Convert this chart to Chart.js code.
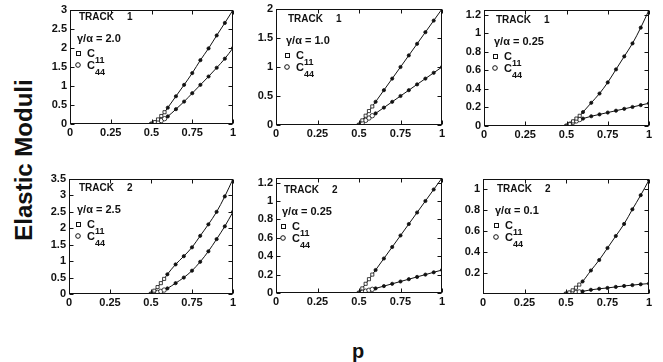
<!DOCTYPE html>
<html><head><meta charset="utf-8">
<script src="https://cdn.jsdelivr.net/npm/chart.js@4.4.1/dist/chart.umd.min.js"></script>
<style>
html,body{margin:0;padding:0;background:#fff;width:663px;height:362px;overflow:hidden;position:relative;}
canvas.cv{position:absolute;}
#ytitle{position:absolute;left:24px;top:160px;transform:translate(-50%,-50%) rotate(-90deg);font:bold 24px "Liberation Sans",Arial,sans-serif;white-space:nowrap;color:#111;}
#xtitle{position:absolute;left:358px;top:351px;transform:translate(-50%,-50%);font:bold 20px "Liberation Sans",Arial,sans-serif;color:#111;}
</style></head><body>
<div id="ytitle">Elastic Moduli</div>
<div id="xtitle">p</div>
<script>
// ---- data ----
const pValues = [0.5,0.52,0.54,0.56,0.58,0.6,0.65,0.7,0.75,0.8,0.85,0.9,0.95,1.0];
const t1r20C11 = [0,0.05,0.12,0.21,0.31,0.43,0.73,1.03,1.34,1.68,1.99,2.33,2.66,3.0];
const t1r20C44 = [0,0.02,0.05,0.09,0.14,0.2,0.39,0.59,0.81,1.03,1.25,1.48,1.72,2.0];
const t1r10C11 = [0,0.08,0.16,0.24,0.32,0.4,0.6,0.8,1.0,1.2,1.4,1.6,1.8,2.0];
const t1r10C44 = [0,0.04,0.08,0.12,0.16,0.2,0.3,0.4,0.5,0.6,0.7,0.8,0.9,1.0];
const t1r025C11 = [0,0.02,0.05,0.08,0.11,0.15,0.25,0.35,0.47,0.61,0.75,0.89,1.06,1.25];
const t1r025C44 = [0,0.02,0.04,0.055,0.07,0.08,0.105,0.125,0.145,0.165,0.185,0.205,0.225,0.245];
const t2r25C11 = [0,0.1,0.21,0.33,0.46,0.6,0.9,1.15,1.42,1.77,2.12,2.5,2.97,3.5];
const t2r25C44 = [0,0.02,0.05,0.08,0.12,0.17,0.33,0.5,0.71,0.98,1.3,1.67,2.06,2.5];
const t2r025C11 = [0,0.05,0.1,0.15,0.2,0.25,0.375,0.5,0.625,0.75,0.875,1.0,1.125,1.25];
const t2r025C44 = [0,0.01,0.02,0.03,0.04,0.05,0.075,0.1,0.125,0.15,0.175,0.2,0.225,0.25];
const t2r01C11 = [0,0.015,0.035,0.06,0.09,0.12,0.225,0.325,0.44,0.555,0.67,0.81,0.945,1.09];
const t2r01C44 = [0,0.005,0.01,0.015,0.02,0.025,0.04,0.05,0.058,0.068,0.077,0.085,0.093,0.1];

const xTickValues = [0,0.25,0.5,0.75,1];
const yTicksP1 = [0,0.5,1,1.5,2,2.5,3];
const yTicksP2 = [0,0.5,1,1.5,2];
const yTicksP3 = [0,0.2,0.4,0.6,0.8,1,1.2];
const yTicksP4 = [0,0.5,1,1.5,2,2.5,3,3.5];
const yTicksP5 = [0,0.2,0.4,0.6,0.8,1,1.2];
const yTicksP6 = [0.2,0.4,0.6,0.8,1];
const yMaxes = [3,2,1.25,3.5,1.25,1.1];
const trackLabels = ['1','1','1','2','2','2'];
const ratioLabels = ['2.0','1.0','0.25','2.5','0.25','0.1'];

// ---- layout (plot area boxes in page px) ----
const boxes = [
  [70,10,233,124],[276,9,442,125],[484,10,649,126],
  [69,179,233,294],[276,178,442,293],[483,179,649,294]
];
const annotOffsets = [[9,10],[12,13],[12,13],[10,12],[8,15],[14,13]];

const seriesC11 = [t1r20C11,t1r10C11,t1r025C11,t2r25C11,t2r025C11,t2r01C11];
const seriesC44 = [t1r20C44,t1r10C44,t1r025C44,t2r25C44,t2r025C44,t2r01C44];
const yTickSets = [yTicksP1,yTicksP2,yTicksP3,yTicksP4,yTicksP5,yTicksP6];

const FONT = '"Liberation Sans", Arial, sans-serif';
const INK = '#111';
const YW = 45, XH = 20, PT = 10, PR = 10;

const framePlugin = {
  id:'frame',
  afterDraw(chart){
    const {ctx, chartArea:a, scales:{x,y}} = chart;
    ctx.save();
    ctx.strokeStyle = INK; ctx.lineWidth = 1;
    const L = Math.round(a.left)+0.5, R = Math.round(a.right)-0.5, T = Math.round(a.top)+0.5, B = Math.round(a.bottom)-0.5;
    ctx.strokeRect(L, T, R-L, B-T);
    ctx.beginPath();
    x.ticks.forEach(t => {
      const px = Math.round(x.getPixelForValue(t.value))+0.5;
      ctx.moveTo(px,B); ctx.lineTo(px,B-4);
      ctx.moveTo(px,T); ctx.lineTo(px,T+4);
    });
    y.ticks.forEach(t => {
      const py = Math.round(y.getPixelForValue(t.value))+0.5;
      ctx.moveTo(L,py); ctx.lineTo(L+4,py);
      ctx.moveTo(R,py); ctx.lineTo(R-4,py);
    });
    ctx.stroke();
    ctx.restore();
  }
};

const annotPlugin = {
  id:'annot',
  afterDraw(chart, args, opts){
    const {ctx, chartArea:a} = chart;
    const x0 = a.left + opts.dx, b0 = a.top + opts.dy;
    ctx.save();
    ctx.fillStyle = INK; ctx.strokeStyle = INK; ctx.lineWidth = 1;
    ctx.textBaseline = 'alphabetic'; ctx.textAlign = 'left';
    ctx.font = 'bold 10px ' + FONT;
    ctx.fillText('TRACK', x0, b0);
    ctx.fillText(opts.track, x0 + 48, b0);
    ctx.font = 'bold 11px ' + FONT;
    ctx.fillText('\u03b3/\u03b1 = ' + opts.ratio, x0 - 2, b0 + 22);
    // C11 row
    ctx.strokeRect(Math.round(x0 - 3)+0.5, Math.round(b0 + 31)+0.5, 4, 4);
    ctx.font = 'bold 11px ' + FONT;
    ctx.fillText('C', x0 + 8, b0 + 37);
    ctx.font = 'bold 9px ' + FONT;
    ctx.fillText('11', x0 + 16, b0 + 43);
    // C44 row
    ctx.beginPath(); ctx.arc(x0 - 1, b0 + 45, 2.3, 0, Math.PI*2); ctx.stroke();
    ctx.font = 'bold 11px ' + FONT;
    ctx.fillText('C', x0 + 8, b0 + 49);
    ctx.font = 'bold 9px ' + FONT;
    ctx.fillText('44', x0 + 16, b0 + 55);
    ctx.restore();
  }
};

function makeDataset(values, openStyle){
  return {
    data: pValues.map((p,i)=>({x:p, y:values[i]})),
    showLine: true,
    borderColor: INK,
    borderWidth: 1,
    cubicInterpolationMode: 'monotone',
    pointStyle: c => pValues[c.dataIndex] < 0.6 ? openStyle : 'circle',
    pointRadius: c => pValues[c.dataIndex] < 0.6 ? 2.2 : 1.6,
    pointBackgroundColor: c => pValues[c.dataIndex] < 0.6 ? '#fff' : INK,
    pointBorderColor: INK,
    pointBorderWidth: 0.8
  };
}

boxes.forEach((b, i) => {
  const [L,T,R,B] = b;
  const cv = document.createElement('canvas');
  cv.className = 'cv';
  const w = (R-L) + YW + PR, h = (B-T) + PT + XH;
  cv.width = w; cv.height = h;
  cv.style.left = (L - YW) + 'px'; cv.style.top = (T - PT) + 'px';
  cv.style.width = w + 'px'; cv.style.height = h + 'px';
  document.body.appendChild(cv);
  const tickFont = {family: FONT, weight:'bold', size: 11};
  new Chart(cv, {
    type: 'scatter',
    data: { datasets: [ makeDataset(seriesC11[i], 'rect'), makeDataset(seriesC44[i], 'circle') ] },
    options: {
      responsive: false, animation: false, devicePixelRatio: 1,
      layout: {padding: {top: PT, right: PR, left: 0, bottom: 0}},
      plugins: {
        legend: {display:false}, tooltip: {enabled:false},
        annot: {dx: annotOffsets[i][0], dy: annotOffsets[i][1], track: trackLabels[i], ratio: ratioLabels[i]}
      },
      scales: {
        x: {
          type: 'linear', min: 0, max: 1,
          grid: {display:false, drawTicks:false}, border: {display:false},
          afterBuildTicks: s => { s.ticks = xTickValues.map(v => ({value: v})); },
          afterFit: s => { s.height = XH; },
          ticks: {padding: 2, color: INK, font: tickFont, maxRotation: 0, autoSkip: false, callback: v => String(v)}
        },
        y: {
          type: 'linear', min: 0, max: yMaxes[i],
          grid: {display:false, drawTicks:false}, border: {display:false},
          afterBuildTicks: s => { s.ticks = yTickSets[i].map(v => ({value: v})); },
          afterFit: s => { s.width = YW; },
          ticks: {padding: 3, color: INK, font: tickFont, autoSkip: false, callback: v => String(v)}
        }
      }
    },
    plugins: [framePlugin, annotPlugin]
  });
});
</script>
</body></html>
